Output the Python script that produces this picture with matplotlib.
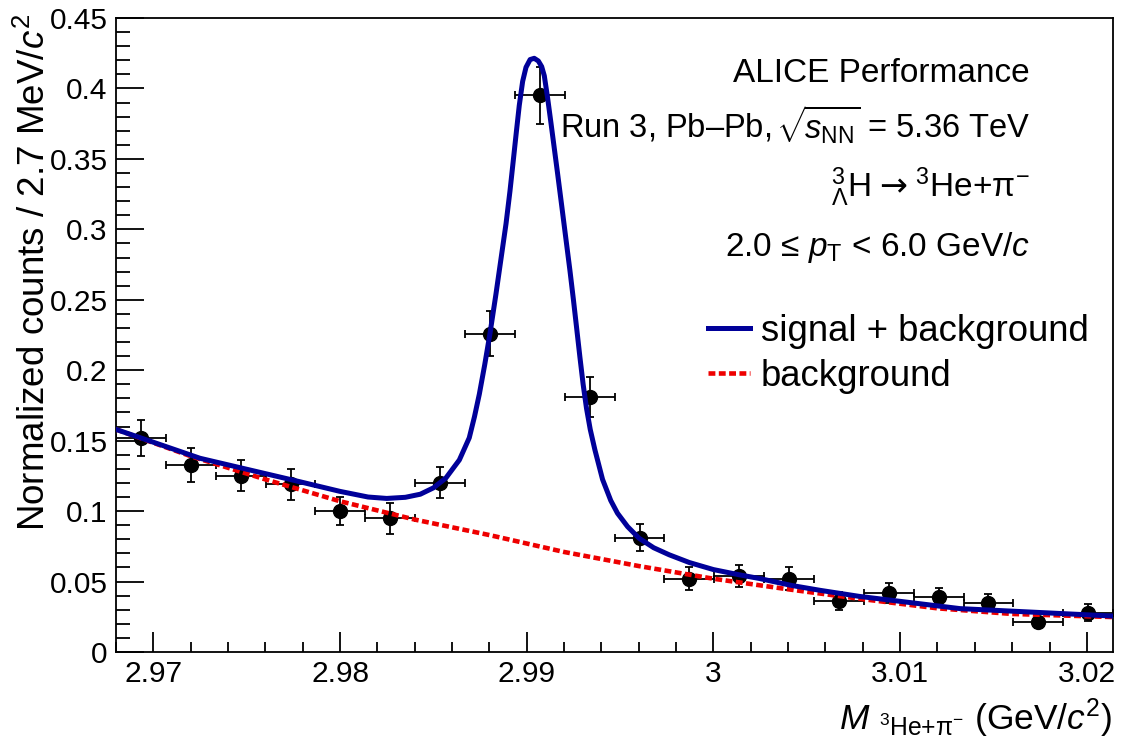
#!/usr/bin/python3
# -*- coding: utf-8 -*-

import numpy as np
import matplotlib
matplotlib.use('Agg')
import matplotlib.pyplot as plt
from matplotlib.ticker import MultipleLocator, FixedLocator, FixedFormatter

plt.rcParams['font.family'] = ['Liberation Sans', 'DejaVu Sans']
plt.rcParams['mathtext.fontset'] = 'custom'
plt.rcParams['mathtext.rm'] = 'Liberation Sans'
plt.rcParams['mathtext.it'] = 'Liberation Sans:italic'
plt.rcParams['mathtext.sf'] = 'DejaVu Sans'     # only used for the arrow
plt.rcParams['mathtext.bf'] = 'Liberation Sans:bold'

##################################################################
# Data

# Invariant mass bin centres, GeV/c^2
mass = [2.96934, 2.97201, 2.97468, 2.97735, 2.98002, 2.98269, 2.98536, 2.98803,
        2.99070, 2.99337, 2.99604, 2.99871, 3.00138, 3.00405, 3.00672, 3.00939,
        3.01206, 3.01473, 3.01740, 3.02007]
binHalfWidth = 0.001335
counts = [0.152, 0.133, 0.125, 0.119, 0.100, 0.095, 0.120, 0.226,
          0.395, 0.181, 0.081, 0.052, 0.054, 0.052, 0.036, 0.042,
          0.039, 0.035, 0.021, 0.028]
countsErr = [0.013, 0.012, 0.011, 0.011, 0.010, 0.011, 0.011, 0.016,
             0.020, 0.014, 0.0095, 0.008, 0.008, 0.008, 0.0065, 0.007,
             0.0066, 0.0062, 0.004, 0.006]

# Fit: signal + background
sigX = [2.9680, 2.9725, 2.9778, 2.9800, 2.9815, 2.9825, 2.9835, 2.9843,
        2.9850, 2.98567, 2.98639, 2.98692, 2.98720, 2.98746, 2.98775, 2.98803,
        2.98835, 2.98862, 2.98889, 2.98910, 2.98928, 2.98945, 2.98960, 2.98978,
        2.98996, 2.99018, 2.99040, 2.99062, 2.99080, 2.99094, 2.99112, 2.99130,
        2.99148, 2.99165, 2.99187, 2.99209, 2.99231, 2.99250, 2.99268, 2.99285,
        2.99302, 2.99320, 2.99340, 2.99365, 2.99406, 2.99450, 2.99486, 2.99540,
        2.99602, 2.99680, 2.99763, 2.99871, 3.00000, 3.00138, 3.00245, 3.00420,
        3.00570, 3.00780, 3.01320, 3.02140]
sigY = [0.1580, 0.1375, 0.1210, 0.1140, 0.1100, 0.1090, 0.1098, 0.1120,
        0.1165, 0.1235, 0.1363, 0.1520, 0.1670, 0.1830, 0.2040, 0.2260,
        0.2540, 0.2790, 0.3040, 0.3270, 0.3490, 0.3700, 0.3880, 0.4050,
        0.4150, 0.4205, 0.4214, 0.4195, 0.4155, 0.4090, 0.3930, 0.3752,
        0.3570, 0.3398, 0.3170, 0.2940, 0.2711, 0.2500, 0.2290, 0.2090,
        0.1900, 0.1730, 0.1580, 0.1435, 0.1225, 0.1075, 0.0985, 0.0890,
        0.0807, 0.0740, 0.0690, 0.0635, 0.0585, 0.0548, 0.0522, 0.0472,
        0.0438, 0.0395, 0.0308, 0.0255]

# Fit: background only
bkgX = [2.968, 2.972, 2.976, 2.980, 2.984, 2.988, 2.992, 2.996, 3.000,
        3.004, 3.008, 3.012, 3.016, 3.0214]
bkgY = [0.158, 0.139, 0.1225, 0.107, 0.094, 0.083, 0.071, 0.061, 0.052,
        0.0445, 0.0375, 0.031, 0.027, 0.0248]

xTicks = [2.97, 2.98, 2.99, 3.00, 3.01, 3.02]
xTickLabels = ['2.97', '2.98', '2.99', '3', '3.01', '3.02']
yTicks = [0, 0.05, 0.1, 0.15, 0.2, 0.25, 0.3, 0.35, 0.4, 0.45]
yTickLabels = ['0', '0.05', '0.1', '0.15', '0.2', '0.25', '0.3', '0.35', '0.4', '0.45']

##################################################################
# Plot

fig = plt.figure(figsize=(11.21, 7.41), dpi=100)
ax = fig.add_axes([116/1121, 1-652/741, 997/1121, 634/741])

ax.errorbar(mass, counts, xerr=binHalfWidth, yerr=countsErr,
            fmt='o', color='black', ms=10, elinewidth=1.3,
            capsize=3, capthick=1.3, zorder=2)

ax.plot(sigX, sigY, color='#000099', lw=3.6, zorder=4,
        solid_joinstyle='round', label='signal + background')
ax.plot(bkgX, bkgY, color='#ee0000', lw=3.3, zorder=3,
        dashes=(1.5, 0.75), label='background')

ax.set_xlim(2.968, 3.0214)
ax.set_ylim(0, 0.45)

ax.xaxis.set_major_locator(FixedLocator(xTicks))
ax.xaxis.set_major_formatter(FixedFormatter(xTickLabels))
ax.xaxis.set_minor_locator(MultipleLocator(0.002))
ax.yaxis.set_major_locator(FixedLocator(yTicks))
ax.yaxis.set_major_formatter(FixedFormatter(yTickLabels))
ax.yaxis.set_minor_locator(MultipleLocator(0.01))

ax.tick_params(axis='both', which='both', direction='in', top=False, right=False,
               width=1.3, labelsize=21.5, colors='black')
ax.tick_params(axis='x', which='major', length=14.5, pad=6)
ax.tick_params(axis='x', which='minor', length=7.2)
ax.tick_params(axis='y', which='major', length=20, pad=6)
ax.tick_params(axis='y', which='minor', length=10)
for s in ax.spines.values():
    s.set_linewidth(1.3)

# Axis titles, ROOT style (aligned to the axis end)
fig.text(35/1121, 1-14/741, r'Normalized counts / 2.7 MeV/$c^{2}$',
         rotation=90, ha='center', va='top', fontsize=26.5)
fig.text(1112/1121, 1-730/741,
         r'$M_{\ \,{}^{3}\mathrm{He{+}π^{-}}}$ (GeV/$c^{2}$)',
         ha='right', va='baseline', fontsize=25.5)

# Labels
txtX = (1030-116)/997
ax.text(txtX, (652-82)/634, 'ALICE Performance', transform=ax.transAxes,
        ha='right', va='baseline', fontsize=24)
ax.text(txtX, (652-138)/634,
        r'Run 3, Pb–Pb,$\,\sqrt{\!s_{\mathrm{NN}}}$ = 5.36 TeV',
        transform=ax.transAxes, ha='right', va='baseline', fontsize=23.5)
ax.text(txtX, (652-197)/634,
        r'${}^{3}_{\Lambda}\mathrm{H}\;\mathsf{→}\;{}^{3}\mathrm{He{+}π^{-}}$',
        transform=ax.transAxes, ha='right', va='baseline', fontsize=24)
ax.text(txtX, (652-256)/634, r'2.0 ≤ $p_{\mathrm{T}}$ < 6.0 GeV/$c$',
        transform=ax.transAxes, ha='right', va='baseline', fontsize=24)

ax.legend(loc='upper left', bbox_to_anchor=((708-116)/997, (652-314)/634),
          frameon=False, fontsize=26.3, handlelength=1.15, handletextpad=0.3,
          borderpad=0, borderaxespad=0, labelspacing=0.28)

fig.savefig('out.png', dpi=100)
